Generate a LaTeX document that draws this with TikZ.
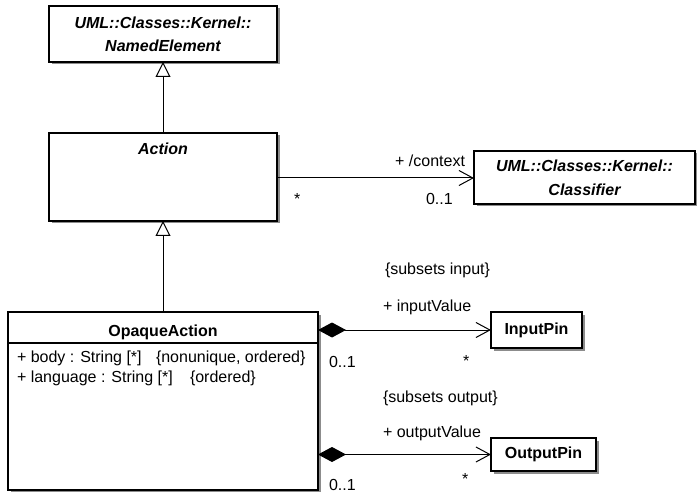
\documentclass[tikz,border=0pt]{standalone}
\usepackage{fontspec}
\setmainfont{Liberation Sans}
\usetikzlibrary{arrows.meta,shadows}
\begin{document}
\begin{tikzpicture}[x=1pt,y=-1pt,
  txt/.style={inner sep=0pt,outer sep=0pt,font=\fontsize{16}{20}\selectfont},
  cls/.style={draw,line width=1.1pt,fill=white,inner sep=0pt,outer sep=0pt,
    drop shadow={shadow xshift=2.5pt,shadow yshift=-2.5pt,fill=black!45,opacity=1}},
  gen/.style={line width=1pt,-{Triangle[length=15pt,width=15pt,fill=white,line width=1pt]}},
  assoc/.style={line width=1pt,-{Straight Barb[length=14pt,width=15pt,line width=1pt]}},
  comp/.style={line width=1pt,{Diamond[length=28pt,width=15pt]}-{Straight Barb[length=14pt,width=15pt,line width=1pt]}}
]
\useasboundingbox (0,0) rectangle (697,492);
% boxes
\node[cls,minimum width=228pt,minimum height=56pt,align=center,
  font=\bfseries\itshape\fontsize{16}{23}\selectfont] (ne) at (163,34) {UML::Classes::Kernel::\\NamedElement};
\node[cls,minimum width=228pt,minimum height=88pt] (act) at (163,177) {};
\node[txt,anchor=base,font=\bfseries\itshape\fontsize{16}{20}\selectfont] (actt) at (163,155) {Action};
\node[cls,minimum width=221pt,minimum height=53pt,align=center,
  font=\bfseries\itshape\fontsize{16}{24}\selectfont] (cl) at (584.5,177.5) {UML::Classes::Kernel::\\Classifier};
\node[cls,minimum width=310pt,minimum height=178pt] (oa) at (163,401) {};
\draw[line width=1.1pt] (oa.west |- 0,343) coordinate (sepl) -- (oa.east |- 0,343) coordinate (sepr);
\node[txt,anchor=base,font=\bfseries\fontsize{16}{20}\selectfont] (oat) at (163,336) {OpaqueAction};
\node[txt,anchor=base west] (a1) at (17,362) {+ body : String [*]};
\node[txt,anchor=base west] (a1c) at (156,362) {\{nonunique, ordered\}};
\node[txt,anchor=base west] (a2) at (17,382) {+ language : String [*]};
\node[txt,anchor=base west] (a2c) at (190,382) {\{ordered\}};
\node[cls,minimum width=91pt,minimum height=36pt,font=\bfseries\fontsize{16}{20}\selectfont] (ip) at (536.5,330) {InputPin};
\node[cls,minimum width=105pt,minimum height=33pt,font=\bfseries\fontsize{16}{20}\selectfont] (op) at (543.5,454.5) {OutputPin};
% connectors
\draw[gen] (act.north) -- (ne.south);
\draw[gen] (oa.north) -- (act.south);
\draw[assoc] (act.east |- 0,178) -- (cl.west |- 0,178);
\draw[comp] (ip.west -| oa.east) -- (ip.west);
\draw[comp] (op.west -| oa.east) -- (op.west);
% labels
\node[txt,anchor=base east] (lctx) at (465,167) {+ /context};
\node[txt,anchor=base west] (lctxs) at (294,205) {*};
\node[txt,anchor=base west] (lctxm) at (426,205) {0..1};
\node[txt,anchor=base west] (lsi) at (385,275) {\{subsets input\}};
\node[txt,anchor=base west] (liv) at (383,311) {+ inputValue};
\node[txt,anchor=base west] (lis) at (463,366) {*};
\node[txt,anchor=base west] (lim) at (329,367) {0..1};
\node[txt,anchor=base west] (lso) at (383,402) {\{subsets output\}};
\node[txt,anchor=base west] (lov) at (383,437) {+ outputValue};
\node[txt,anchor=base west] (los) at (462,484) {*};
\node[txt,anchor=base west] (lom) at (329,490) {0..1};
\end{tikzpicture}
\end{document}
